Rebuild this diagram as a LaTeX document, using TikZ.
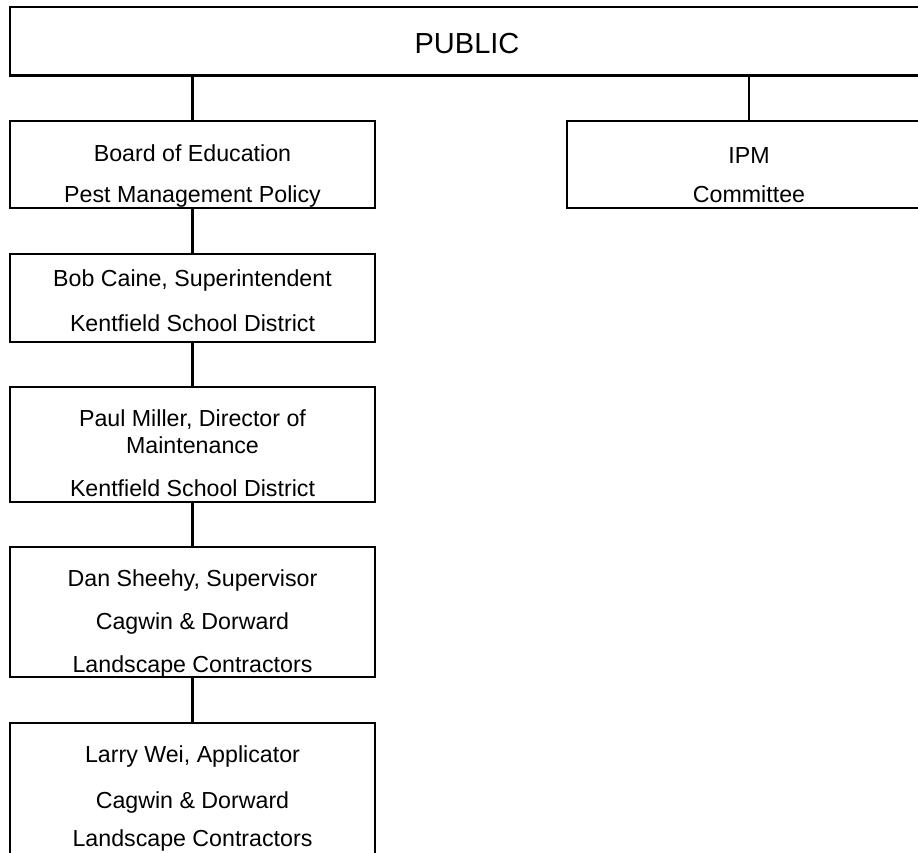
\documentclass[tikz,border=0pt]{standalone}
\usepackage{fontspec}
\setmainfont{Liberation Sans}
\begin{document}
\begin{tikzpicture}[x=1pt,y=-1pt,
  box/.style={draw=black, line width=2.8pt, rectangle, inner sep=0pt, outer sep=0pt, fill=none},
  lbl/.style={anchor=base, inner sep=0pt, font=\fontsize{23.2}{27}\selectfont},
  big/.style={anchor=base, inner sep=0pt, font=\fontsize{29}{34}\selectfont},
  link/.style={draw=black, line width=2.8pt}]
\useasboundingbox (0,0) rectangle (918,852);
\clip (0,0) rectangle (918,852);
\fill[white] (0,0) rectangle (918,852);
% boxes
\node[box, minimum width=914pt, minimum height=68.5pt] (public) at (467,41.25) {};
\node[box, minimum width=365pt, minimum height=87pt] (board) at (192.5,164.5) {};
\node[box, minimum width=364pt, minimum height=87pt] (ipm) at (749,164.5) {};
\node[box, minimum width=365pt, minimum height=88pt] (bob) at (192.5,298) {};
\node[box, minimum width=365pt, minimum height=115pt] (paul) at (192.5,444.5) {};
\node[box, minimum width=365pt, minimum height=130pt] (dan) at (192.5,612) {};
\node[box, minimum width=365pt, minimum height=140pt] (larry) at (192.5,793) {};
% texts
\node[big] (tpublic) at (467,53) {PUBLIC};
\node[lbl] (tb1) at (192.5,161) {Board of Education};
\node[lbl] (tb2) at (192.5,202) {Pest Management Policy};
\node[lbl] (ti1) at (749,163) {IPM};
\node[lbl] (ti2) at (749,202) {Committee};
\node[lbl] (tc1) at (192.5,286) {Bob Caine, Superintendent};
\node[lbl] (tc2) at (192.5,331.5) {Kentfield School District};
\node[lbl] (tp1) at (192.5,426.5) {Paul Miller, Director of};
\node[lbl] (tp2) at (192.5,453) {Maintenance};
\node[lbl] (tp3) at (192.5,496) {Kentfield School District};
\node[lbl] (td1) at (192.5,586) {Dan Sheehy, Supervisor};
\node[lbl] (td2) at (192.5,629.5) {Cagwin \& Dorward};
\node[lbl] (td3) at (192.5,672) {Landscape Contractors};
\node[lbl] (tl1) at (192.5,762.5) {Larry Wei, Applicator};
\node[lbl] (tl2) at (192.5,808) {Cagwin \& Dorward};
\node[lbl] (tl3) at (192.5,846.5) {Landscape Contractors};
% connectors
\draw[link] (board.north |- public.south) -- (board.north);
\draw[link] (ipm.north |- public.south) -- (ipm.north);
\draw[link] (board.south) -- (bob.north);
\draw[link] (bob.south) -- (paul.north);
\draw[link] (paul.south) -- (dan.north);
\draw[link] (dan.south) -- (larry.north);
\end{tikzpicture}
\end{document}
